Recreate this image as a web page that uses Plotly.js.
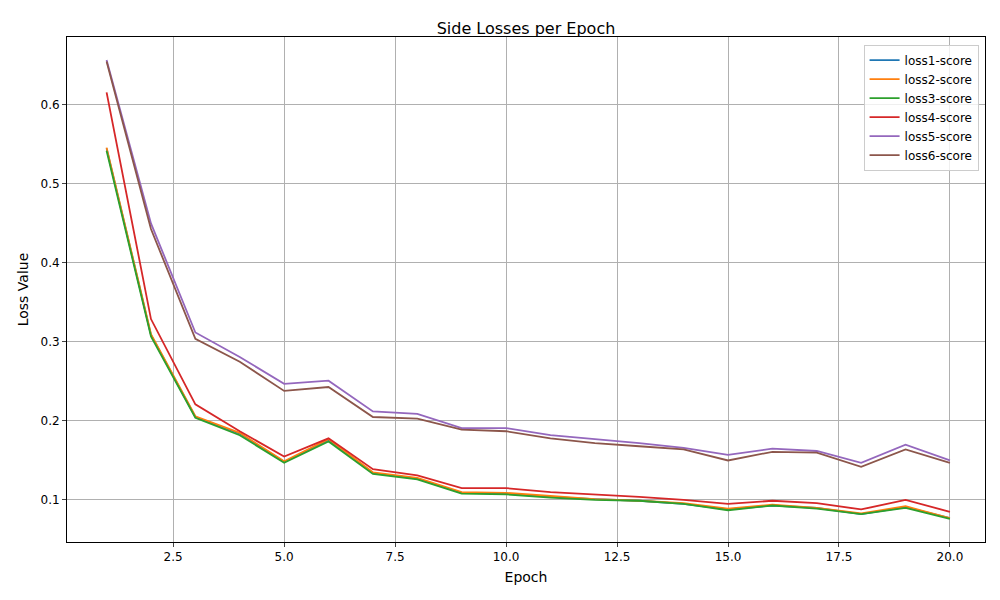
<!DOCTYPE html>
<html>
<head>
<script src="https://cdn.plot.ly/plotly-3.0.1.min.js"></script>
<style>body{margin:0}#plot{width:1000px;height:600px}</style>
</head>
<body>
<div id="plot"></div>
<script>
const epochs = [1,2,3,4,5,6,7,8,9,10,11,12,13,14,15,16,17,18,19,20];
const loss1 = [0.545,0.309,0.205,0.184,0.148,0.176,0.134,0.127,0.109,0.108,0.104,0.101,0.099,0.095,0.088,0.093,0.090,0.082,0.091,0.077];
const loss2 = [0.546,0.310,0.206,0.185,0.149,0.177,0.135,0.128,0.110,0.109,0.105,0.101,0.099,0.096,0.089,0.094,0.090,0.083,0.092,0.077];
const loss3 = [0.542,0.307,0.204,0.182,0.147,0.174,0.133,0.126,0.108,0.107,0.103,0.100,0.099,0.095,0.087,0.093,0.089,0.082,0.090,0.076];
const loss4 = [0.616,0.329,0.221,0.187,0.155,0.178,0.139,0.131,0.115,0.115,0.110,0.107,0.104,0.100,0.095,0.099,0.096,0.088,0.100,0.085];
const loss5 = [0.657,0.450,0.312,0.281,0.247,0.251,0.212,0.209,0.191,0.191,0.182,0.177,0.172,0.166,0.157,0.165,0.162,0.147,0.170,0.150];
const loss6 = [0.655,0.443,0.304,0.275,0.238,0.243,0.205,0.203,0.189,0.187,0.178,0.172,0.168,0.164,0.150,0.161,0.160,0.142,0.164,0.147];

const names = ['loss1-score','loss2-score','loss3-score','loss4-score','loss5-score','loss6-score'];
const series = [loss1, loss2, loss3, loss4, loss5, loss6];
const colors = ['#1f77b4','#ff7f0e','#2ca02c','#d62728','#9467bd','#8c564b'];

const traces = series.map((y, i) => ({
  x: epochs, y: y, name: names[i], mode: 'lines', type: 'scatter',
  line: {color: colors[i], width: 1.8},
}));

const layout = {
  width: 1000, height: 600,
  font: {family: 'DejaVu Sans', size: 12, color: '#000'},
  title: {text: 'Side Losses per Epoch', x: 0.526, y: 0.962, font: {size: 16}},
  margin: {l: 67, r: 15, t: 37, b: 58},
  plot_bgcolor: '#fff', paper_bgcolor: '#fff',
  xaxis: {
    title: {text: 'Epoch', standoff: 8}, range: [0.108, 20.79],
    tickvals: [2.5,5,7.5,10,12.5,15,17.5,20], ticktext: ['2.5','5.0','7.5','10.0','12.5','15.0','17.5','20.0'],
    showgrid: true, gridcolor: '#b0b0b0', zeroline: false,
    showline: true, mirror: true, linecolor: '#000', ticks: 'outside', ticklen: 4,
  },
  yaxis: {
    title: {text: 'Loss Value', standoff: 8}, range: [0.0468, 0.686],
    tickvals: [0.1,0.2,0.3,0.4,0.5,0.6],
    showgrid: true, gridcolor: '#b0b0b0', zeroline: false,
    showline: true, mirror: true, linecolor: '#000', ticks: 'outside', ticklen: 4,
  },
  legend: {x: 0.993, y: 0.985, xanchor: 'right', yanchor: 'top', bgcolor: 'rgba(255,255,255,0.8)', bordercolor: '#ccc', borderwidth: 1, font: {size: 12}},
  showlegend: true,
};

Plotly.newPlot('plot', traces, layout, {displayModeBar: false});
</script>
</body>
</html>
